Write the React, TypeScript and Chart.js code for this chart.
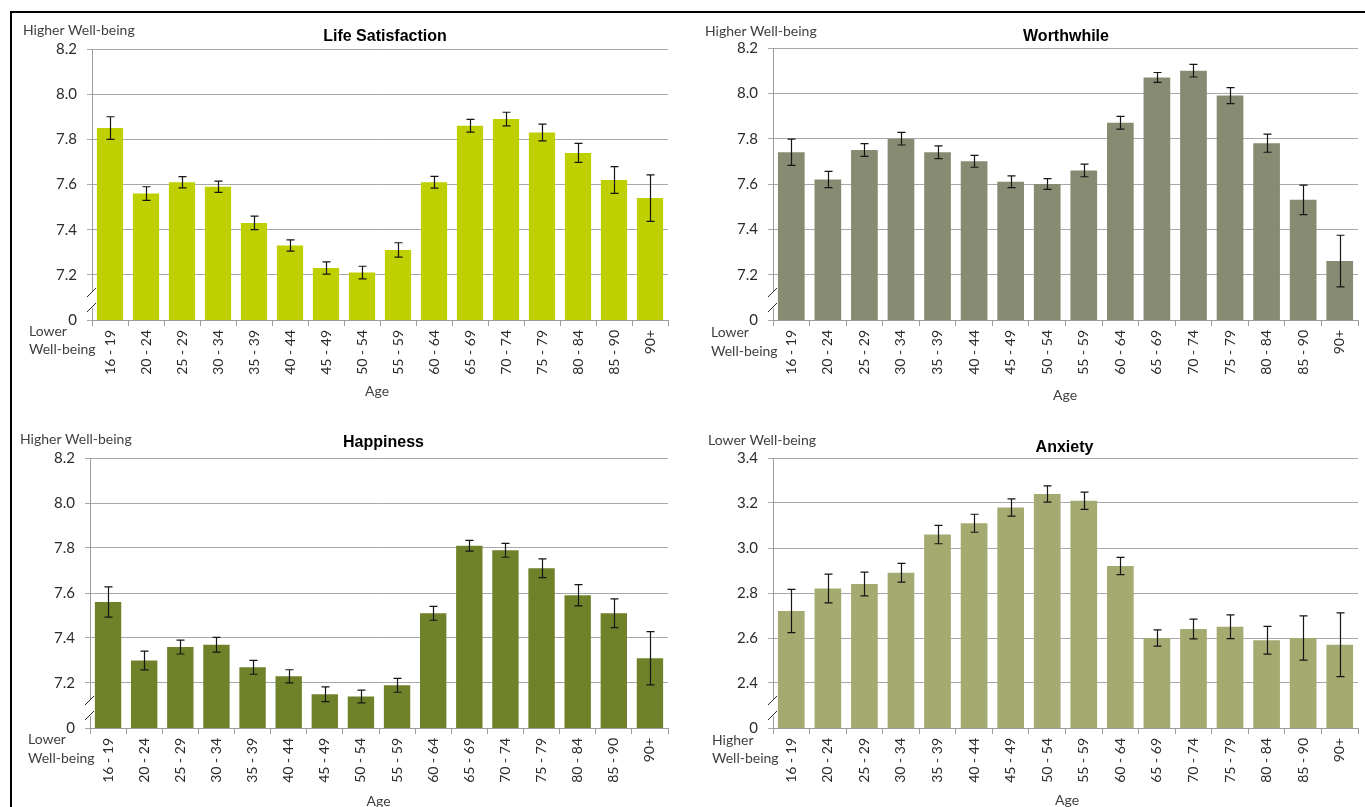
import React, { useEffect, useRef } from 'react';
import { Chart, registerables } from 'chart.js';

Chart.register(...registerables);

// ---- data ----
const ageGroups = [
  '16 - 19', '20 - 24', '25 - 29', '30 - 34', '35 - 39', '40 - 44', '45 - 49', '50 - 54',
  '55 - 59', '60 - 64', '65 - 69', '70 - 74', '75 - 79', '80 - 84', '85 - 90', '90+',
];

const lifeSatisfaction = [7.85, 7.56, 7.61, 7.59, 7.43, 7.33, 7.23, 7.21, 7.31, 7.61, 7.86, 7.89, 7.83, 7.74, 7.62, 7.54];
const lifeSatisfactionCI = [0.05, 0.03, 0.025, 0.025, 0.03, 0.025, 0.027, 0.028, 0.032, 0.026, 0.028, 0.03, 0.037, 0.042, 0.059, 0.103];

const worthwhile = [7.74, 7.62, 7.75, 7.8, 7.74, 7.7, 7.61, 7.6, 7.66, 7.87, 8.07, 8.1, 7.99, 7.78, 7.53, 7.26];
const worthwhileCI = [0.058, 0.036, 0.028, 0.028, 0.028, 0.026, 0.026, 0.024, 0.028, 0.028, 0.022, 0.028, 0.035, 0.04, 0.065, 0.114];

const happiness = [7.56, 7.3, 7.36, 7.37, 7.27, 7.23, 7.15, 7.14, 7.19, 7.51, 7.81, 7.79, 7.71, 7.59, 7.51, 7.31];
const happinessCI = [0.067, 0.042, 0.031, 0.033, 0.031, 0.029, 0.033, 0.028, 0.031, 0.031, 0.024, 0.031, 0.042, 0.047, 0.064, 0.118];

const anxiety = [2.72, 2.82, 2.84, 2.89, 3.06, 3.11, 3.18, 3.24, 3.21, 2.92, 2.6, 2.64, 2.65, 2.59, 2.6, 2.57];
const anxietyCI = [0.096, 0.064, 0.053, 0.042, 0.041, 0.04, 0.038, 0.036, 0.038, 0.038, 0.036, 0.044, 0.053, 0.062, 0.098, 0.142];

// y ranges (the lowest value is shown as "0" below an axis break)
const wellbeingRange = [7.0, 8.2];
const anxietyRange = [2.2, 3.4];
const tickStep = 0.2;

// ---- styling ----
const FONT = 'Lato, "Open Sans", sans-serif';
const TITLE_FONT = '"Liberation Sans", Arial, sans-serif';
const GRID = '#a8a8a8';
const AXIS = '#9c9c9c';
const TICK_TEXT = '#2b2b2b';
const LABEL_TEXT = '#3f3f3f';
const Y_AXIS_W = 60;
const X_AXIS_H = 70;

type Rect = { x: number; y: number; w: number; h: number };
type Plot = { l: number; t: number; r: number; b: number };

type Panel = {
  title: string;
  topLabel: string;
  bottomLabel: [string, string];
  values: number[];
  errors: number[];
  color: string;
  range: number[];
  canvas: Rect;
  plot: Plot;
  titleX: number;
  titleY: number;
  topLabelX: number;
  topLabelY: number;
  bottomLabelX: number;
  bottomLabelY: [number, number];
  ageX: number;
  ageY: number;
};

const panels: Panel[] = [
  {
    title: 'Life Satisfaction', topLabel: 'Higher Well-being', bottomLabel: ['Lower', 'Well-being'],
    values: lifeSatisfaction, errors: lifeSatisfactionCI, color: '#bfd000', range: wellbeingRange,
    canvas: { x: 13, y: 14, w: 669, h: 398 }, plot: { l: 92, t: 49, r: 668, b: 320 },
    titleX: 385, titleY: 41, topLabelX: 23, topLabelY: 35,
    bottomLabelX: 29, bottomLabelY: [336, 354], ageX: 377, ageY: 396,
  },
  {
    title: 'Worthwhile', topLabel: 'Higher Well-being', bottomLabel: ['Lower', 'Well-being'],
    values: worthwhile, errors: worthwhileCI, color: '#878b71', range: wellbeingRange,
    canvas: { x: 690, y: 14, w: 675, h: 398 }, plot: { l: 773, t: 48, r: 1358, b: 320 },
    titleX: 1066, titleY: 41, topLabelX: 705, topLabelY: 36,
    bottomLabelX: 711, bottomLabelY: [337, 356], ageX: 1065, ageY: 400,
  },
  {
    title: 'Happiness', topLabel: 'Higher Well-being', bottomLabel: ['Lower', 'Well-being'],
    values: happiness, errors: happinessCI, color: '#6f8229', range: wellbeingRange,
    canvas: { x: 13, y: 414, w: 669, h: 393 }, plot: { l: 90, t: 458, r: 668, b: 728 },
    titleX: 383.5, titleY: 446.5, topLabelX: 20, topLabelY: 444,
    bottomLabelX: 28, bottomLabelY: [744, 762.5], ageX: 378.5, ageY: 806,
  },
  {
    title: 'Anxiety', topLabel: 'Lower Well-being', bottomLabel: ['Higher', 'Well-being'],
    values: anxiety, errors: anxietyCI, color: '#a5aa70', range: anxietyRange,
    canvas: { x: 690, y: 414, w: 675, h: 393 }, plot: { l: 773, t: 458, r: 1358, b: 728 },
    titleX: 1064.5, titleY: 452, topLabelX: 708, topLabelY: 445,
    bottomLabelX: 712, bottomLabelY: [744.5, 763], ageX: 1067, ageY: 805,
  },
];

// Error bars, the axis break and the panel texts
function makeDecor(p: Panel) {
  const ox = p.canvas.x;
  const oy = p.canvas.y;
  return {
    id: 'panelDecor',
    afterDatasetsDraw(chart: any) {
      const { ctx } = chart;
      const meta = chart.getDatasetMeta(0);
      const y = chart.scales.y;
      ctx.save();
      ctx.strokeStyle = '#151515';
      ctx.lineWidth = 1.2;
      meta.data.forEach((bar: any, i: number) => {
        const v = p.values[i];
        const e = p.errors[i];
        const top = y.getPixelForValue(v + e);
        const bot = y.getPixelForValue(v - e);
        const x = Math.round(bar.x) + 0.5;
        ctx.beginPath();
        ctx.moveTo(x, top);
        ctx.lineTo(x, bot);
        ctx.moveTo(x - 4, top);
        ctx.lineTo(x + 4, top);
        ctx.moveTo(x - 4, bot);
        ctx.lineTo(x + 4, bot);
        ctx.stroke();
      });
      ctx.restore();
    },
    afterDraw(chart: any) {
      const { ctx, chartArea } = chart;
      const ax = Math.round(chartArea.left);
      const b = Math.round(chartArea.bottom);
      ctx.save();
      // axis break
      ctx.fillStyle = '#ffffff';
      ctx.fillRect(ax - 2, b - 28, 4, 16);
      ctx.strokeStyle = '#2a2a2a';
      ctx.lineWidth = 1;
      ctx.beginPath();
      ctx.moveTo(ax - 5, b - 23);
      ctx.lineTo(ax + 4, b - 32);
      ctx.moveTo(ax - 5, b - 8);
      ctx.lineTo(ax + 4, b - 17);
      ctx.stroke();

      // title
      ctx.fillStyle = '#000000';
      ctx.font = `bold 16px ${TITLE_FONT}`;
      ctx.textAlign = 'center';
      ctx.textBaseline = 'alphabetic';
      ctx.fillText(p.title, p.titleX - ox, p.titleY - oy);

      // axis title
      ctx.fillStyle = LABEL_TEXT;
      ctx.font = `14px ${FONT}`;
      ctx.fillText('Age', p.ageX - ox, p.ageY - oy);

      // direction labels
      ctx.textAlign = 'left';
      ctx.font = `14px ${FONT}`;
      ctx.fillText(p.topLabel, p.topLabelX - ox, p.topLabelY - oy);
      ctx.fillText(p.bottomLabel[0], p.bottomLabelX - ox, p.bottomLabelY[0] - oy);
      ctx.fillText(p.bottomLabel[1], p.bottomLabelX - ox, p.bottomLabelY[1] - oy);
      ctx.restore();
    },
  };
}

function buildChart(canvas: HTMLCanvasElement, p: Panel) {
  const min = p.range[0];
  const max = p.range[1];
  const padLeft = p.plot.l - p.canvas.x - Y_AXIS_W;
  const padTop = p.plot.t - p.canvas.y;
  const padRight = p.canvas.x + p.canvas.w - p.plot.r;
  const padBottom = p.canvas.y + p.canvas.h - p.plot.b - X_AXIS_H;
  return new Chart(canvas, {
    type: 'bar',
    data: {
      labels: ageGroups,
      datasets: [
        {
          data: p.values,
          backgroundColor: p.color,
          borderWidth: 0,
          categoryPercentage: 0.73,
          barPercentage: 1,
        },
      ],
    },
    options: {
      animation: false,
      responsive: false,
      devicePixelRatio: 1,
      layout: { padding: { left: padLeft, top: padTop, right: padRight, bottom: padBottom } },
      plugins: {
        legend: { display: false },
        tooltip: { enabled: false },
        title: { display: false },
      },
      scales: {
        x: {
          offset: true,
          grid: { display: true, drawOnChartArea: false, drawTicks: true, tickLength: 6, color: AXIS, offset: true },
          border: { display: true, color: AXIS, width: 1 },
          ticks: {
            autoSkip: false,
            maxRotation: 90,
            minRotation: 90,
            padding: 4,
            color: TICK_TEXT,
            font: { family: FONT, size: 14 },
          },
          afterFit: (s: any) => {
            s.height = X_AXIS_H;
          },
        },
        y: {
          min,
          max,
          grid: { color: GRID, tickLength: 5, drawTicks: true },
          border: { display: true, color: AXIS, width: 1 },
          ticks: {
            stepSize: tickStep,
            padding: 10,
            color: TICK_TEXT,
            font: { family: FONT, size: 15 },
            callback: (v: any) => (Math.abs(Number(v) - min) < 1e-6 ? '0' : Number(v).toFixed(1)),
          },
          afterFit: (s: any) => {
            s.width = Y_AXIS_W;
          },
        },
      },
    } as any,
    plugins: [makeDecor(p)],
  });
}

export default function App() {
  const refs = useRef<(HTMLCanvasElement | null)[]>([]);

  useEffect(() => {
    const charts = panels.map((p, i) => buildChart(refs.current[i] as HTMLCanvasElement, p));
    return () => charts.forEach((c) => c.destroy());
  }, []);

  return (
    <div
      style={{
        position: 'fixed',
        left: 0,
        top: 0,
        width: 1365,
        height: 807,
        background: '#ffffff',
        overflow: 'hidden',
      }}
    >
      <div
        style={{
          position: 'absolute',
          left: 10,
          top: 11,
          width: 1365,
          height: 800,
          borderTop: '2px solid #000',
          borderLeft: '2px solid #000',
        }}
      />
      {panels.map((p, i) => (
        <canvas
          key={p.title}
          ref={(el) => {
            refs.current[i] = el;
          }}
          width={p.canvas.w}
          height={p.canvas.h}
          style={{
            position: 'absolute',
            left: p.canvas.x,
            top: p.canvas.y,
            width: p.canvas.w,
            height: p.canvas.h,
          }}
        />
      ))}
    </div>
  );
}
